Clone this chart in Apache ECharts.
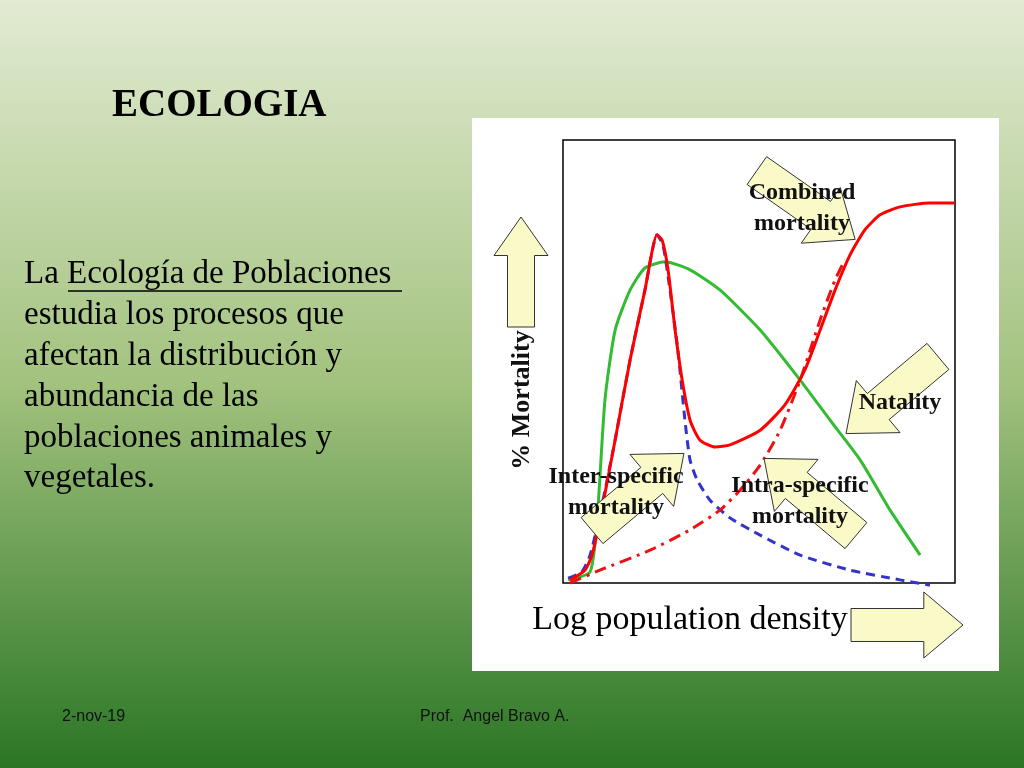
<!DOCTYPE html>
<html><head><meta charset="utf-8">
<script src="https://cdn.jsdelivr.net/npm/echarts@6/dist/echarts.min.js"></script>
<style>html,body{margin:0;padding:0}#c{width:1024px;height:768px}</style>
</head><body><div id="c"></div>
<script>
// x: log population density (0-100), y: % mortality (0-100)
var combinedX = [1.8,5.6,7.4,9.4,13.3,17.1,20.9,24.0,25.3,26.8,28.6,30.4,32.4,34.9,38.8,42.6,50.3,56.6,61.7,65.6,69.4,73.2,77.0,80.9,86.0,93.6,100];
var combinedY = [0.7,2.9,6.3,14.2,32.3,50.3,66.1,78.6,77.4,70.7,57.1,45.8,36.8,32.3,30.7,31.2,34.5,40.2,48.1,57.1,66.1,74.0,79.7,83.1,84.9,85.8,85.8];
var interX = [1.3,4.8,6.9,9.4,13.3,17.1,20.9,24.0,25.5,27.3,29.3,31.1,32.4,34.2,37.5,42.6,50.3,60.5,73.2,86.0,93.6];
var interY = [1.1,2.5,6.3,15.3,32.3,50.3,66.1,78.6,76.3,66.1,52.6,36.8,27.8,23.3,18.7,14.7,10.8,6.3,2.9,0.7,-0.5];
var intraX = [1.8,9.4,22.2,32.4,40.1,45.2,50.3,55.4,60.5,65.6,69.4,71.9];
var intraY = [0,2.9,7.4,12.0,16.5,21.0,26.6,34.5,45.8,59.4,68.4,72.9];
var natalX = [1.3,6.9,8.7,10.7,13.3,17.1,20.9,26.0,32.4,40.1,50.3,60.5,68.1,75.8,83.4,91.1];
var natalY = [0.7,2.5,14.2,41.3,57.1,66.1,71.1,72.5,70.7,66.1,57.1,45.8,36.8,27.8,16.5,6.3];
var bodyLines = ['estudia los procesos que','afectan la distribución y','abundancia de las','poblaciones animales y','vegetales.'];

function zip(a, b) { return a.map(function (v, i) { return [v, b[i]]; }); }

// block arrow polygon: centre, angle (deg, 0 = right), total length, shaft width
function arrow(cx, cy, ang, len, w, z) {
  var hw = w * 1.0, hl = len * 0.35, sl = len - hl;
  var pts = [[-len/2, -w/2],[-len/2 + sl, -w/2],[-len/2 + sl, -w/2 - hw/2],[len/2, 0],
             [-len/2 + sl, w/2 + hw/2],[-len/2 + sl, w/2],[-len/2, w/2]];
  var a = ang * Math.PI / 180;
  pts = pts.map(function (p) {
    return [cx + p[0]*Math.cos(a) - p[1]*Math.sin(a), cy + p[0]*Math.sin(a) + p[1]*Math.cos(a)];
  });
  return { type: 'polygon', z: z || 100, shape: { points: pts },
    style: { fill: '#fafac8', stroke: '#333', lineWidth: 1 } };
}
var serif = '"Liberation Serif","DejaVu Serif",serif';
function lbl(x, y, t, size, extra) {
  var o = { type: 'text', x: x, y: y, z: 120,
    style: { text: t, font: 'bold ' + size + 'px ' + serif, fill: '#111', align: 'center', verticalAlign: 'middle', lineHeight: size * 1.3 } };
  for (var k in extra) o[k] = extra[k];
  return o;
}

var graphics = [
  { type: 'rect', z: -10, shape: { x: 472, y: 118, width: 527, height: 553 }, style: { fill: '#fff' } },
  { type: 'text', left: 112, top: 86, style: { text: 'ECOLOGIA', font: 'bold 39px ' + serif, fill: '#000' } },
  { type: 'text', left: 24, top: 258, style: { text: 'La Ecología de Poblaciones', font: '33px ' + serif, fill: '#000' } },
  { type: 'line', shape: { x1: 68, y1: 291, x2: 402, y2: 291 }, style: { stroke: '#000', lineWidth: 1.5 } },
  arrow(521, 272, -90, 110, 27),
  arrow(907, 625, 0, 112, 33),
  arrow(806, 205, 35, 120, 34),
  arrow(892, 395, 140, 120, 34),
  arrow(638, 492, -40, 120, 34),
  arrow(810, 497, -140, 120, 34),
  lbl(802, 208, 'Combined\nmortality', 24),
  lbl(900, 403, 'Natality', 24),
  lbl(616, 492, 'Inter-specific\nmortality', 24),
  lbl(800, 501, 'Intra-specific\nmortality', 24),
  lbl(522, 400, '% Mortality', 26, { rotation: Math.PI / 2 }),
  { type: 'text', x: 690, y: 620, z: 120, style: { text: 'Log population density', font: '34px ' + serif, fill: '#000', align: 'center', verticalAlign: 'middle' } },
  { type: 'text', left: 62, top: 709, style: { text: '2-nov-19', font: '16px "Liberation Sans",Arial,sans-serif', fill: '#111' } },
  { type: 'text', left: 420, top: 709, style: { text: 'Prof.  Angel Bravo A.', font: '16px "Liberation Sans",Arial,sans-serif', fill: '#111' } }
];
bodyLines.forEach(function (t, i) {
  graphics.push({ type: 'text', left: 24, top: 299 + i * 40.8, style: { text: t, font: '33px ' + serif, fill: '#000' } });
});

var chart = echarts.init(document.getElementById('c'));
function ser(name, data, color, type) {
  return { name: name, type: 'line', smooth: 0.2, symbol: 'none', clip: false, data: data,
    lineStyle: { color: color, width: 3, type: type } };
}
chart.setOption({
  animation: false,
  backgroundColor: { type: 'linear', x: 0, y: 0, x2: 0, y2: 1,
    colorStops: [{ offset: 0, color: '#e2ebd3' }, { offset: 0.5, color: '#a2c27e' }, { offset: 1, color: '#2b7625' }] },
  grid: { left: 563, top: 140, width: 392, height: 443, show: true, borderColor: '#000', borderWidth: 1.5, backgroundColor: 'transparent' },
  xAxis: { type: 'value', min: 0, max: 100, show: false },
  yAxis: { type: 'value', min: 0, max: 100, show: false },
  series: [
    ser('Natality', zip(natalX, natalY), '#33bb33', 'solid'),
    ser('Inter-specific mortality', zip(interX, interY), '#3333cc', [9, 6]),
    ser('Intra-specific mortality', zip(intraX, intraY), '#ee1111', [12, 6, 3, 6]),
    ser('Combined mortality', zip(combinedX, combinedY), '#ff0000', 'solid')
  ],
  graphic: graphics
});
</script></body></html>
